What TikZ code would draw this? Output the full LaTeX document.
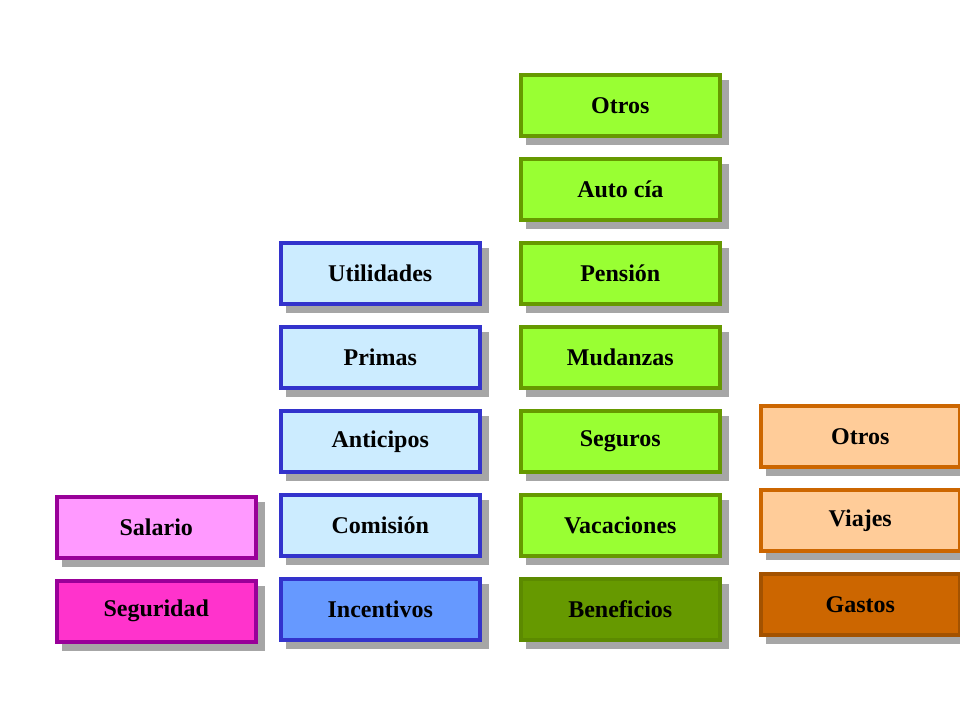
\documentclass[tikz,border=0pt]{standalone}
\usepackage{fontspec}
\setmainfont{Liberation Serif}
\begin{document}
\begin{tikzpicture}[x=1pt,y=-1pt,
 bx/.style={draw=#1,line width=3.5pt,minimum width=199pt,minimum height=61pt,inner sep=0pt,
   font=\bfseries\fontsize{24}{28}\selectfont,anchor=north west},
 sh/.style={fill=gray!70,minimum width=203pt,minimum height=65pt,anchor=north west,inner sep=0pt}]
\useasboundingbox (0,0) rectangle (960,720);
\newcommand{\bb}[6]{% name,x,y,fill,draw,text
 \node[sh] at (#2+7,#3+7) {};
 \node[bx=#5,fill=#4] (#1) at (#2,#3) {#6};}
\definecolor{pk}{HTML}{FF99FF}\definecolor{mg}{HTML}{FF33CC}\definecolor{pu}{HTML}{990099}
\definecolor{lb}{HTML}{CCECFF}\definecolor{bl}{HTML}{3333CC}\definecolor{mb}{HTML}{6699FF}
\definecolor{lg}{HTML}{99FF33}\definecolor{dg}{HTML}{669900}\definecolor{dg2}{HTML}{5C8A00}
\definecolor{lo}{HTML}{FFCC99}\definecolor{og}{HTML}{CC6600}
\bb{sal}{55}{495}{pk}{pu}{Salario}
\bb{seg}{55}{579}{mg}{pu}{Seguridad}
\bb{uti}{279}{241}{lb}{bl}{Utilidades}
\bb{pri}{279}{325}{lb}{bl}{Primas}
\bb{ant}{279}{409}{lb}{bl}{Anticipos}
\bb{com}{279}{493}{lb}{bl}{Comisión}
\bb{inc}{279}{577}{mb}{bl}{Incentivos}
\bb{otr}{519}{73}{lg}{dg}{Otros}
\bb{aut}{519}{157}{lg}{dg}{Auto cía}
\bb{pen}{519}{241}{lg}{dg}{Pensión}
\bb{mud}{519}{325}{lg}{dg}{Mudanzas}
\bb{segu}{519}{409}{lg}{dg}{Seguros}
\bb{vac}{519}{493}{lg}{dg}{Vacaciones}
\bb{ben}{519}{577}{dg}{dg2}{Beneficios}
\bb{otr2}{759}{404}{lo}{og}{Otros}
\bb{via}{759}{488}{lo}{og}{Viajes}
\bb{gas}{759}{572}{og}{og!80!black}{Gastos}
\end{tikzpicture}
\end{document}
